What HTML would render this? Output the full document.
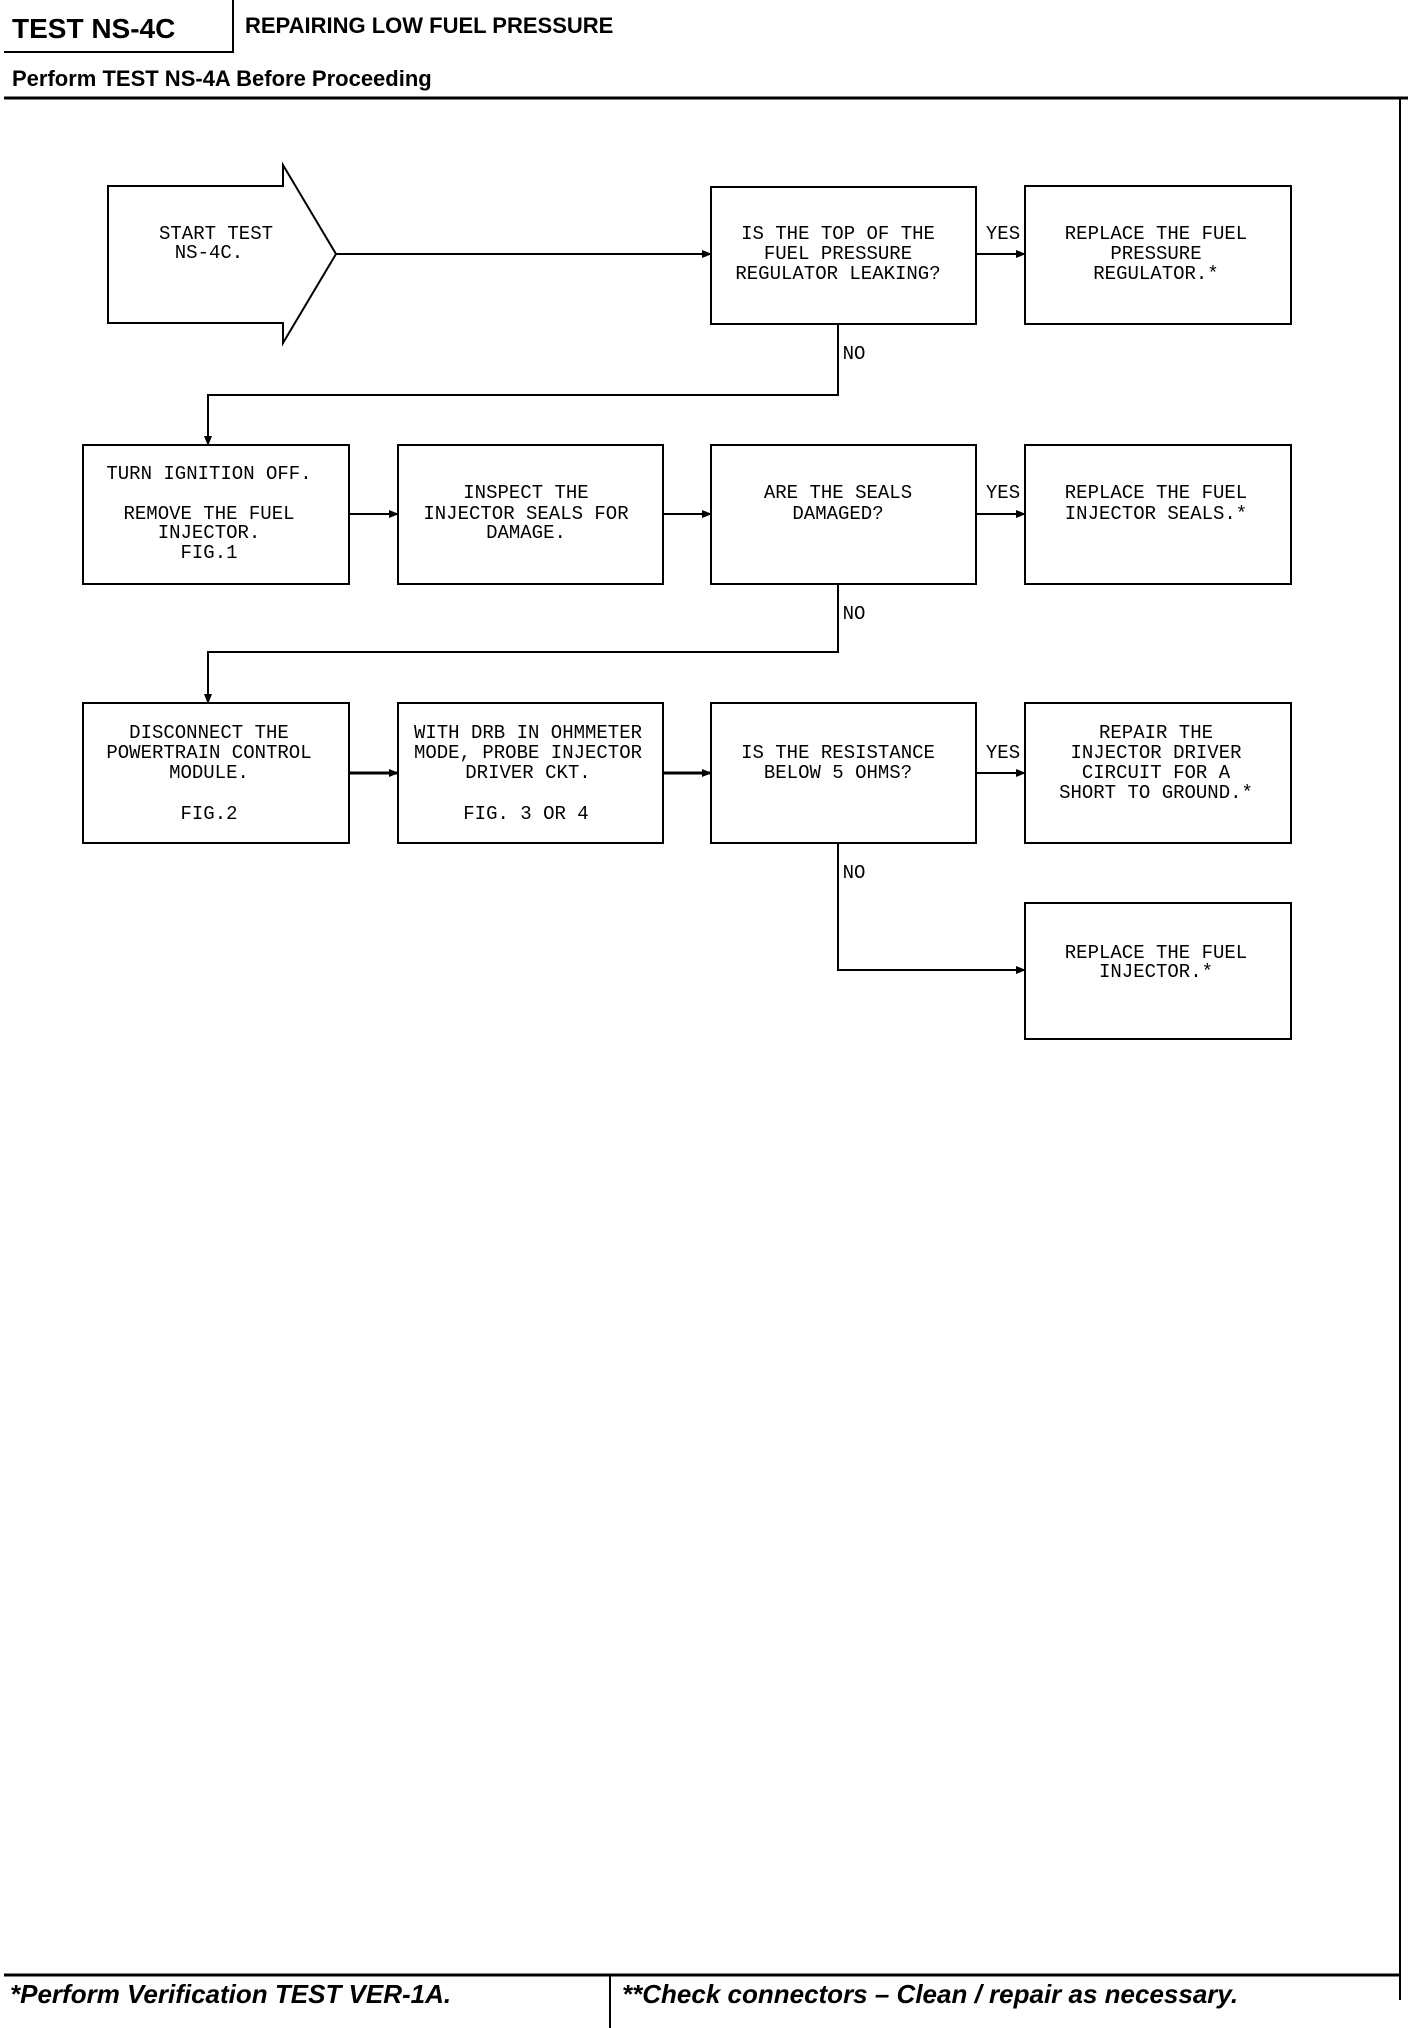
<!DOCTYPE html>
<html><head><meta charset="utf-8"><style>
html,body{margin:0;padding:0;background:#fff;}
svg{display:block}
.t{font-family:"Liberation Mono",monospace;font-size:19px;fill:#000;text-anchor:middle;dominant-baseline:central}
.h{font-family:"Liberation Sans",sans-serif;font-weight:bold;fill:#000}
</style></head><body>
<svg width="1408" height="2028" viewBox="0 0 1408 2028" xmlns="http://www.w3.org/2000/svg">
<defs><marker id="a" markerWidth="10" markerHeight="8" refX="9" refY="4" orient="auto" markerUnits="userSpaceOnUse"><path d="M0,0 L10,4 L0,8 z" fill="#000"/></marker></defs>
<!-- header -->
<text class="h" x="12" y="38" font-size="28">TEST NS-4C</text>
<text class="h" x="245" y="33" font-size="22">REPAIRING LOW FUEL PRESSURE</text>
<line x1="4" y1="52" x2="233" y2="52" stroke="#000" stroke-width="2"/>
<line x1="233" y1="0" x2="233" y2="53" stroke="#000" stroke-width="2"/>
<text class="h" x="12" y="86" font-size="22">Perform TEST NS-4A Before Proceeding</text>
<line x1="4" y1="98" x2="1408" y2="98" stroke="#000" stroke-width="3"/>
<line x1="1400" y1="98" x2="1400" y2="2000" stroke="#000" stroke-width="2"/>
<!-- footer -->
<line x1="4" y1="1975" x2="1400" y2="1975" stroke="#000" stroke-width="3"/>
<line x1="610" y1="1975" x2="610" y2="2028" stroke="#000" stroke-width="2"/>
<text class="h" x="10" y="2003" font-size="26" font-style="italic">*Perform Verification TEST VER-1A.</text>
<text class="h" x="622" y="2003" font-size="26" font-style="italic">**Check connectors – Clean / repair as necessary.</text>
<g fill="none" stroke="#000" stroke-width="2">
<!-- start arrow -->
<path d="M108,186 L283,186 L283,165 L336,254 L283,343 L283,323 L108,323 Z"/>
<rect x="711" y="187" width="265" height="137"/>
<rect x="1025" y="186" width="266" height="138"/>
<rect x="83" y="445" width="266" height="139"/>
<rect x="398" y="445" width="265" height="139"/>
<rect x="711" y="445" width="265" height="139"/>
<rect x="1025" y="445" width="266" height="139"/>
<rect x="83" y="703" width="266" height="140"/>
<rect x="398" y="703" width="265" height="140"/>
<rect x="711" y="703" width="265" height="140"/>
<rect x="1025" y="703" width="266" height="140"/>
<rect x="1025" y="903" width="266" height="136"/>
<!-- connectors -->
<line x1="336" y1="254" x2="711" y2="254" marker-end="url(#a)"/>
<line x1="976" y1="254" x2="1025" y2="254" marker-end="url(#a)"/>
<path d="M838,324 V395 H208 V445" marker-end="url(#a)"/>
<line x1="349" y1="514" x2="398" y2="514" marker-end="url(#a)"/>
<line x1="663" y1="514" x2="711" y2="514" marker-end="url(#a)"/>
<line x1="976" y1="514" x2="1025" y2="514" marker-end="url(#a)"/>
<path d="M838,584 V652 H208 V703" marker-end="url(#a)"/>
<line x1="349" y1="773" x2="398" y2="773" marker-end="url(#a)" stroke-width="3"/>
<line x1="663" y1="773" x2="711" y2="773" marker-end="url(#a)" stroke-width="3"/>
<line x1="976" y1="773" x2="1025" y2="773" marker-end="url(#a)"/>
<path d="M838,843 V970 H1025" marker-end="url(#a)"/>
</g>
<!-- labels -->
<text class="t" x="1003" y="234">YES</text>
<text class="t" x="1003" y="493">YES</text>
<text class="t" x="1003" y="753">YES</text>
<text class="t" x="854" y="354">NO</text>
<text class="t" x="854" y="614">NO</text>
<text class="t" x="854" y="873">NO</text>
<text class="t" x="216" y="234">START TEST</text>
<text class="t" x="209" y="253">NS-4C.</text>
<text class="t" x="838" y="234">IS THE TOP OF THE</text>
<text class="t" x="838" y="254">FUEL PRESSURE</text>
<text class="t" x="838" y="274">REGULATOR LEAKING?</text>
<text class="t" x="1156" y="234">REPLACE THE FUEL</text>
<text class="t" x="1156" y="254">PRESSURE</text>
<text class="t" x="1156" y="274">REGULATOR.*</text>
<text class="t" x="209" y="474">TURN IGNITION OFF.</text>
<text class="t" x="209" y="514">REMOVE THE FUEL</text>
<text class="t" x="209" y="533">INJECTOR.</text>
<text class="t" x="209" y="553">FIG.1</text>
<text class="t" x="526" y="493">INSPECT THE</text>
<text class="t" x="526" y="514">INJECTOR SEALS FOR</text>
<text class="t" x="526" y="533">DAMAGE.</text>
<text class="t" x="838" y="493">ARE THE SEALS</text>
<text class="t" x="838" y="514">DAMAGED?</text>
<text class="t" x="1156" y="493">REPLACE THE FUEL</text>
<text class="t" x="1156" y="514">INJECTOR SEALS.*</text>
<text class="t" x="209" y="733">DISCONNECT THE</text>
<text class="t" x="209" y="753">POWERTRAIN CONTROL</text>
<text class="t" x="209" y="773">MODULE.</text>
<text class="t" x="209" y="814">FIG.2</text>
<text class="t" x="528" y="733">WITH DRB IN OHMMETER</text>
<text class="t" x="528" y="753">MODE, PROBE INJECTOR</text>
<text class="t" x="528" y="773">DRIVER CKT.</text>
<text class="t" x="526" y="814">FIG. 3 OR 4</text>
<text class="t" x="838" y="753">IS THE RESISTANCE</text>
<text class="t" x="838" y="773">BELOW 5 OHMS?</text>
<text class="t" x="1156" y="733">REPAIR THE</text>
<text class="t" x="1156" y="753">INJECTOR DRIVER</text>
<text class="t" x="1156" y="773">CIRCUIT FOR A</text>
<text class="t" x="1156" y="793">SHORT TO GROUND.*</text>
<text class="t" x="1156" y="953">REPLACE THE FUEL</text>
<text class="t" x="1156" y="972">INJECTOR.*</text>
</svg>
</body></html>
